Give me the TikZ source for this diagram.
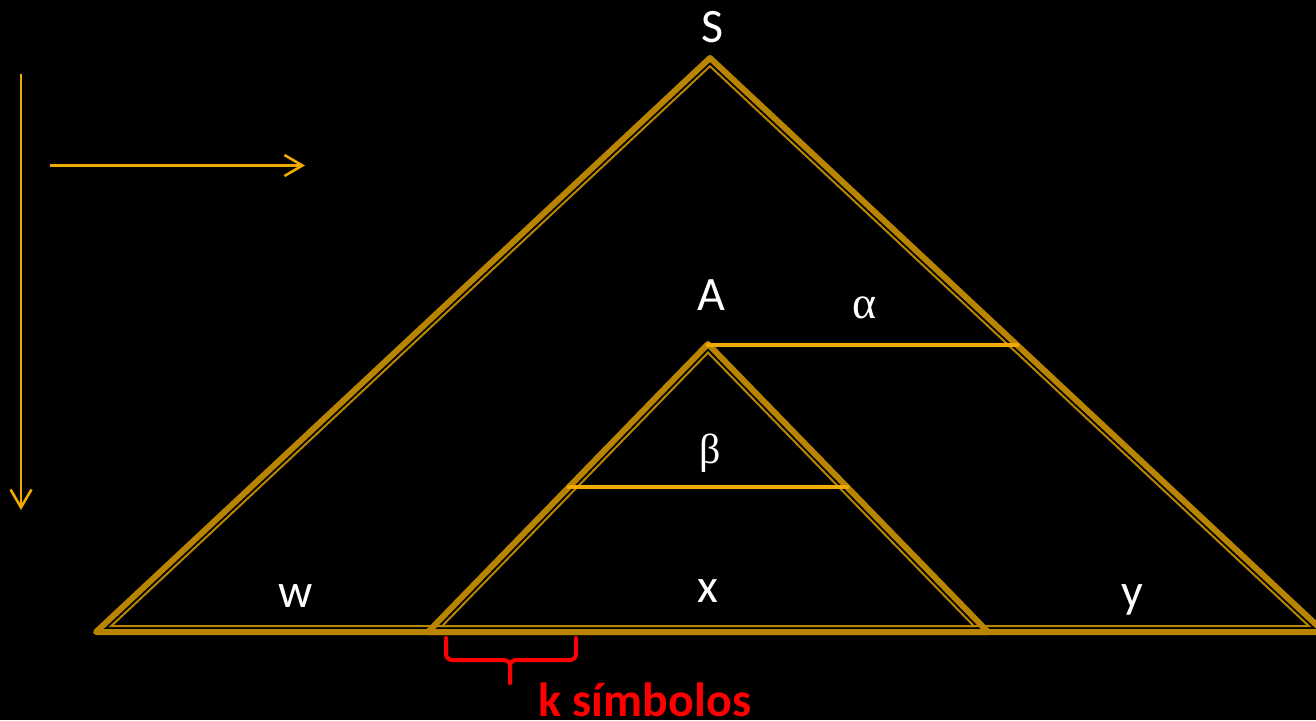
\documentclass[tikz,border=0pt]{standalone}
\usepackage{fontspec}
\setmainfont{Carlito}
\newfontfamily\greekfont{Liberation Serif}
\usetikzlibrary{arrows.meta}
\definecolor{gold}{RGB}{185,132,0}
\definecolor{amber}{RGB}{240,170,0}
\definecolor{kred}{RGB}{255,0,0}
\begin{document}
\begin{tikzpicture}[x=1pt,y=-1pt,
  thickedge/.style={draw=gold,line width=6pt,line join=round,line cap=round},
  thinedge/.style={draw=gold,line width=2pt,line join=miter},
  levelline/.style={draw=amber,line width=4.8pt,line cap=round},
  axisarrow/.style={draw=amber,line width=2.6pt,-{Straight Barb[length=18pt,width=21pt,line width=2.6pt]}},
  lbl/.style={text=white,font=\fontsize{48}{50}\selectfont,anchor=base,inner sep=0pt},
  glbl/.style={text=white,font=\greekfont\fontsize{46}{48}\selectfont,anchor=base,inner sep=0pt},
  bracestyle/.style={draw=kred,line width=4pt,rounded corners=6pt,line cap=round}]
\fill[black] (0,0) rectangle (1316,720);
\useasboundingbox (0,0) rectangle (1316,720);
\clip (0,0) rectangle (1316,720);
% outer triangle
\coordinate (S) at (710,58);
\coordinate (L) at (96,632);
\coordinate (R) at (1324,632);
\coordinate (Si) at (710,66.2);
\coordinate (Li) at (111.2,626);
\coordinate (Ri) at (1308.8,626);
% inner triangle
\coordinate (A) at (708,344);
\coordinate (B) at (428,632);
\coordinate (C) at (988,632);
\coordinate (Ai) at (708,352.6);
\coordinate (Bi) at (442.2,626);
\coordinate (Ci) at (973.8,626);
% level lines
\coordinate (a1) at (708,345);
\coordinate (a2) at (1017,345);
\coordinate (b1) at (569,487);
\coordinate (b2) at (847,487);
\path[thinedge] (Si) -- (Li) -- (Ri) -- cycle;
\path[thinedge] (Ai) -- (Bi) -- (Ci) -- cycle;
\path[thickedge] (S) -- (L) -- (R) -- cycle;
\path[thickedge] (A) -- (B) -- (C) -- cycle;
\path[levelline] (a1) -- (a2);
\path[levelline] (b1) -- (b2);
% axis arrows
\coordinate (v1) at (21,74);
\coordinate (v2) at (21,510);
\coordinate (h1) at (50,165.5);
\coordinate (h2) at (305,165.5);
\path[axisarrow] (v1) -- (v2);
\path[axisarrow] (h1) -- (h2);
% labels
\node[lbl] (lS) at (713,42) {S};
\node[lbl] (lA) at (711,310) {A};
\node[glbl] (lalpha) at (865,318) {α};
\node[glbl,font=\greekfont\fontsize{42}{44}\selectfont] (lbeta) at (710,463) {β};
\node[lbl] (lw) at (296,607) {w};
\node[lbl] (lx) at (708,602) {x};
\node[lbl] (ly) at (1132,607) {y};
% brace
\coordinate (k1) at (446,638);
\coordinate (k2) at (446,660);
\coordinate (k3) at (510,660);
\coordinate (k4) at (510,683);
\coordinate (k5) at (576,638);
\coordinate (k6) at (576,660);
\path[bracestyle] (k1) -- (k2) -- (k3) -- (k4);
\path[bracestyle] (k5) -- (k6) -- (k3) -- (k4);
\node[text=kred,font=\bfseries\fontsize{48}{50}\selectfont,anchor=base,inner sep=0pt] (lk) at (645,716) {k símbolos};
\end{tikzpicture}
\end{document}
